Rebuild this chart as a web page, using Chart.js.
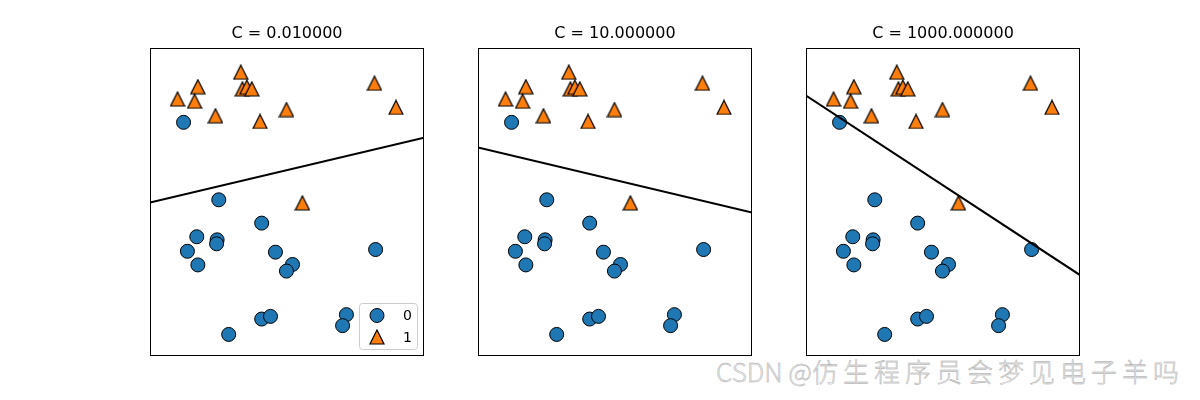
<!DOCTYPE html>
<html>
<head>
<meta charset="utf-8">
<script src="https://cdn.jsdelivr.net/npm/chart.js@4.4.0/dist/chart.umd.min.js"></script>
<style>
  body { margin: 0; background: #fff; }
  #wrap { position: relative; width: 1200px; height: 400px; overflow: hidden; }
  #wrap canvas { position: absolute; top: 0; }
  #mark { position: absolute; left: 716px; top: 354px; white-space: nowrap;
          font-family: "Noto Sans CJK SC", sans-serif; font-size: 26px; font-weight: 300; line-height: 34px;
          color: #e6e6e6; -webkit-text-stroke: 0.35px #a0a0a0; }
  #mark .cjk { letter-spacing: 5px; }
</style>
</head>
<body>
<div id="wrap">
  <div id="mark">CSDN @<span class="cjk">仿生程序员会梦见电子羊吗</span></div>
</div>
<script>
// class labels and the C value of each panel
const classNames = ['0', '1'];
const cValues = [0.01, 10, 1000];

// class 0 (circles)
const class0X = [8.11, 8.75, 9.53, 8.35, 8.72, 8.71, 8.18, 8.37, 9.78, 10.09, 9.98, 11.60, 8.93, 9.53, 9.69, 11.07, 11.00];
const class0Y = [4.10, 2.34, 1.81, 1.50, 1.43, 1.34, 1.17, 0.86, 1.15, 0.87, 0.72, 1.21, -0.72, -0.37, -0.31, -0.27, -0.52];

// class 1 (triangles)
const class1X = [8.00, 8.37, 8.31, 9.15, 9.18, 9.26, 9.35, 8.69, 9.50, 9.98, 11.58, 11.97, 10.27];
const class1Y = [4.63, 4.91, 4.58, 5.24, 4.86, 4.90, 4.86, 4.25, 4.12, 4.39, 4.99, 4.44, 2.27];

// decision boundary, y value at the left and right edge of each panel
const boundaryLeftY = [2.28, 3.53, 4.71];
const boundaryRightY = [3.75, 2.05, 0.63];

const xLimits = [7.5, 12.48];
const yLimits = [-1.21, 5.79];

const panelLefts = [150, 478, 806];
const PANEL_W = 274;
const SIDE = 20;

const BLUE = '#1f77b4';
const ORANGE = '#ff7f0e';

// matplotlib style '^' marker: 14x14 box, centred on its bounding box
function triangleMarker() {
  const c = document.createElement('canvas');
  c.width = 16; c.height = 16;
  const ctx = c.getContext('2d');
  ctx.beginPath();
  ctx.moveTo(8, 1);
  ctx.lineTo(15, 15);
  ctx.lineTo(1, 15);
  ctx.closePath();
  ctx.fillStyle = ORANGE;
  ctx.fill();
  ctx.lineWidth = 1.2;
  ctx.strokeStyle = '#000';
  ctx.lineJoin = 'miter';
  ctx.stroke();
  return c;
}
const triImg = triangleMarker();

const toPoints = (xs, ys) => xs.map((x, i) => ({ x: x, y: ys[i] }));

// black box around the plot area
const framePlugin = {
  id: 'frame',
  afterDatasetsDraw(chart) {
    const a = chart.chartArea;
    const ctx = chart.ctx;
    ctx.save();
    ctx.strokeStyle = '#000';
    ctx.lineWidth = 1;
    ctx.strokeRect(Math.round(a.left) + 0.5, Math.round(a.top) + 0.5,
                   Math.round(a.right - a.left) - 1, Math.round(a.bottom - a.top) - 1);
    ctx.restore();
  }
};

// legend in the lower right corner of the plot area
const boxLegendPlugin = {
  id: 'boxLegend',
  afterDraw(chart, args, opts) {
    if (!opts.display) return;
    const a = chart.chartArea;
    const ctx = chart.ctx;
    const w = 58, h = 46;
    const x0 = a.right - 7 - w, y0 = a.bottom - 7 - h;
    ctx.save();
    ctx.beginPath();
    ctx.roundRect(x0 + 0.5, y0 + 0.5, w, h, 3);
    ctx.fillStyle = 'rgba(255,255,255,0.8)';
    ctx.fill();
    ctx.strokeStyle = '#cccccc';
    ctx.lineWidth = 1;
    ctx.stroke();
    const items = chart.data.datasets.filter(d => d.label !== undefined);
    items.forEach((d, i) => {
      const cy = y0 + 12.5 + i * 21.5;
      const cx = x0 + 18;
      if (d.pointStyle === 'circle') {
        ctx.beginPath();
        ctx.arc(cx, cy, d.pointRadius, 0, Math.PI * 2);
        ctx.fillStyle = d.backgroundColor;
        ctx.fill();
        ctx.strokeStyle = d.borderColor;
        ctx.lineWidth = d.borderWidth;
        ctx.stroke();
      } else {
        ctx.drawImage(d.pointStyle, cx - 8, cy - 8);
      }
      ctx.fillStyle = '#000';
      ctx.font = '14px "DejaVu Sans"';
      ctx.textBaseline = 'middle';
      ctx.fillText(d.label, x0 + 44, cy + 1);
    });
    ctx.restore();
  }
};

const wrap = document.getElementById('wrap');

cValues.forEach((C, i) => {
  const canvas = document.createElement('canvas');
  canvas.width = PANEL_W + 2 * SIDE;
  canvas.height = 400;
  canvas.style.left = (panelLefts[i] - SIDE) + 'px';
  wrap.appendChild(canvas);

  new Chart(canvas, {
    type: 'scatter',
    data: {
      datasets: [
        {
          label: classNames[0],
          data: toPoints(class0X, class0Y),
          pointStyle: 'circle',
          pointRadius: 7,
          backgroundColor: BLUE,
          borderColor: '#000',
          borderWidth: 1,
          order: 2
        },
        {
          label: classNames[1],
          data: toPoints(class1X, class1Y),
          pointStyle: triImg,
          pointRadius: 8,
          backgroundColor: ORANGE,
          borderColor: '#000',
          borderWidth: 1,
          order: 1
        },
        {
          type: 'line',
          data: [{ x: xLimits[0], y: boundaryLeftY[i] }, { x: xLimits[1], y: boundaryRightY[i] }],
          borderColor: '#000',
          borderWidth: 2,
          pointRadius: 0,
          fill: false,
          order: 0
        }
      ]
    },
    options: {
      responsive: false,
      animation: false,
      events: [],
      layout: { padding: { left: SIDE, right: SIDE, top: 24.4, bottom: 44 } },
      scales: {
        x: { type: 'linear', min: xLimits[0], max: xLimits[1], display: false },
        y: { type: 'linear', min: yLimits[0], max: yLimits[1], display: false }
      },
      plugins: {
        legend: { display: false },
        tooltip: { enabled: false },
        title: {
          display: true,
          text: 'C = ' + C.toFixed(6),
          color: '#000',
          font: { family: 'DejaVu Sans', size: 16, weight: 'normal' },
          padding: { top: 0, bottom: 4.4 }
        },
        boxLegend: { display: i === 0 }
      }
    },
    plugins: [framePlugin, boxLegendPlugin]
  });
});
</script>
</body>
</html>
